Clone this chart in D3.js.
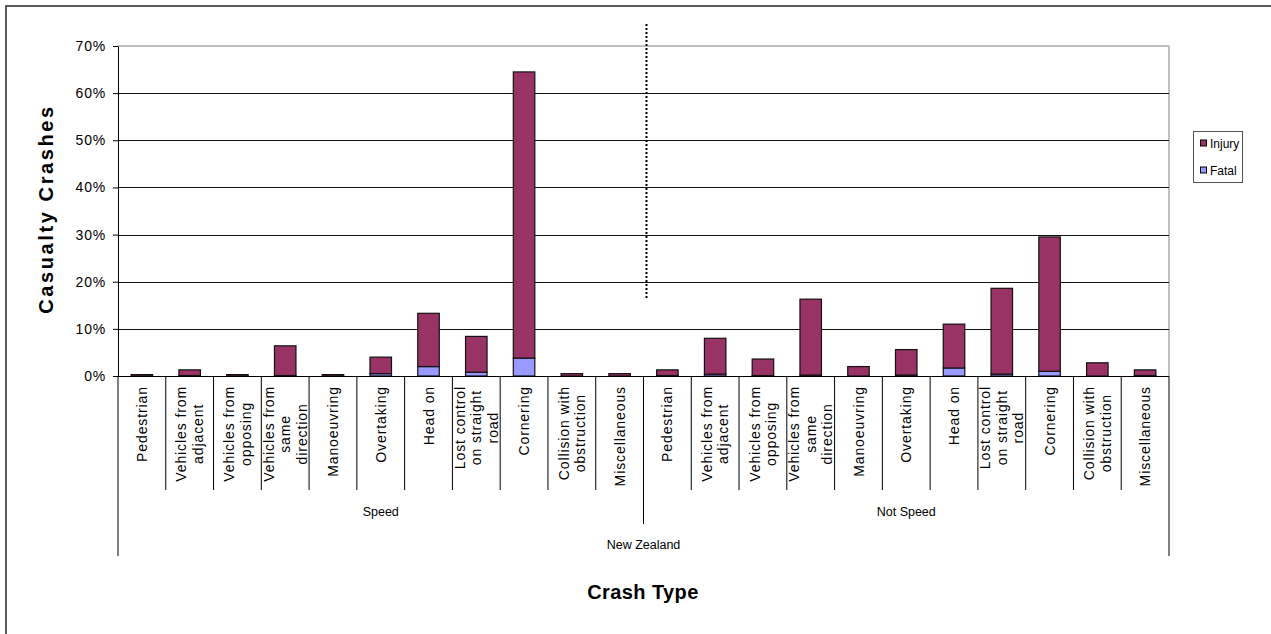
<!DOCTYPE html>
<html>
<head>
<meta charset="utf-8">
<script src="https://cdn.jsdelivr.net/npm/d3@7"></script>
<style>
  html, body { margin: 0; padding: 0; background: #fff; }
  svg { display: block; }
  text { font-family: "Liberation Sans", Arial, sans-serif; fill: #000; }
</style>
</head>
<body>
<svg id="chart" width="1271" height="634"></svg>
<script>
// ---- Data ----
const crashTypes = [
  "Pedestrian", "Vehicles from\nadjacent", "Vehicles from\nopposing",
  "Vehicles from\nsame\ndirection", "Manoeuvring", "Overtaking", "Head on",
  "Lost control\non straight\nroad", "Cornering", "Collision with\nobstruction",
  "Miscellaneous"
];
const groups = ["Speed", "Not Speed"];
const region = "New Zealand";
const seriesNames = ["Injury", "Fatal"];
// percentages of casualty crashes
const fatalSpeed     = [0.0, 0.1, 0.0, 0.1, 0.0, 0.5, 2.0, 0.8, 3.8, 0.0, 0.0];
const injurySpeed    = [0.3, 1.2, 0.3, 6.3, 0.3, 3.5, 11.3, 7.6, 60.7, 0.5, 0.5];
const fatalNotSpeed  = [0.1, 0.4, 0.1, 0.2, 0.0, 0.2, 1.7, 0.4, 1.0, 0.0, 0.1];
const injuryNotSpeed = [1.2, 7.6, 3.5, 16.1, 2.0, 5.4, 9.3, 18.2, 28.5, 2.8, 1.2];
const yTicks = [0, 10, 20, 30, 40, 50, 60, 70];

// ---- Build table ----
const rows = [];
groups.forEach((g, gi) => {
  crashTypes.forEach((c, ci) => {
    rows.push({
      key: g + "|" + c, group: g, cat: c,
      fatal: (gi === 0 ? fatalSpeed : fatalNotSpeed)[ci] / 100,
      injury: (gi === 0 ? injurySpeed : injuryNotSpeed)[ci] / 100
    });
  });
});

const colors = { injury: "#993366", fatal: "#9999FF" };
const font = '"Liberation Sans", Arial, sans-serif';

const svg = d3.select("#chart");
const pLeft = 118, pRight = 1169, pTop = 46, pBottom = 376;

// outer frame (only top/left visible)
svg.append("rect").attr("x", 6).attr("y", 6).attr("width", 1300).attr("height", 700)
  .attr("fill", "none").attr("stroke", "#333").attr("stroke-width", 1.6);

const x = d3.scaleBand().domain(rows.map(d => d.key)).range([pLeft, pRight])
  .paddingInner(0.55).paddingOuter(0.275);
const y = d3.scaleLinear().domain([0, 0.7]).range([pBottom, pTop]);

// plot area border
svg.append("line").attr("x1", pLeft).attr("x2", pRight).attr("y1", pTop).attr("y2", pTop)
  .attr("stroke", "#808080").attr("stroke-width", 1.2);
svg.append("line").attr("x1", pRight).attr("x2", pRight).attr("y1", pTop).attr("y2", pBottom)
  .attr("stroke", "#c0c0c0").attr("stroke-width", 2);

// gridlines
svg.append("g").selectAll("line").data(yTicks.filter(t => t > 0 && t < 70)).join("line")
  .attr("x1", pLeft).attr("x2", pRight)
  .attr("y1", d => Math.round(y(d / 100)) + 0.5).attr("y2", d => Math.round(y(d / 100)) + 0.5)
  .attr("stroke", "#111").attr("stroke-width", 1);

// dotted divider
svg.append("line").attr("x1", 646.5).attr("x2", 646.5).attr("y1", 24).attr("y2", 300)
  .attr("stroke", "#000").attr("stroke-width", 2).attr("stroke-dasharray", "2,2");

// bars
const stack = d3.stack().keys(["fatal", "injury"]);
const series = stack(rows);
svg.append("g").selectAll("g").data(series).join("g")
  .attr("fill", d => colors[d.key])
  .selectAll("rect").data(d => d).join("rect")
  .attr("x", d => x(d.data.key))
  .attr("width", x.bandwidth())
  .attr("y", d => y(d[1]))
  .attr("height", d => Math.max(0, y(d[0]) - y(d[1])))
  .attr("stroke", d => (d[1] - d[0]) > 0 ? "#111" : "none")
  .attr("stroke-width", 1.2);

// y axis
const yAxis = d3.axisLeft(y).tickValues(yTicks.map(t => t / 100))
  .tickFormat(d3.format(".0%")).tickSize(5).tickSizeOuter(0).tickPadding(7);
const ya = svg.append("g").attr("transform", `translate(${pLeft},0)`).call(yAxis);
ya.select(".domain").attr("stroke", "#000");
ya.selectAll(".tick line").attr("stroke", "#000");
ya.selectAll("text").attr("font-family", font).attr("font-size", 14)
  .attr("letter-spacing", 0.8).attr("fill", "#000");

// x axis baseline
svg.append("line").attr("x1", pLeft).attr("x2", pRight).attr("y1", pBottom + 0.5).attr("y2", pBottom + 0.5)
  .attr("stroke", "#000");

// category separators
const step = x.step();
const seps = d3.range(rows.length + 1);
svg.append("g").selectAll("line").data(seps).join("line")
  .attr("x1", i => pLeft + i * step).attr("x2", i => pLeft + i * step)
  .attr("y1", pBottom)
  .attr("y2", i => (i === 0 || i === rows.length) ? 556 : (i % crashTypes.length === 0 ? 524 : 490))
  .attr("stroke", "#000").attr("stroke-width", 1);

// category labels
const labelTop = 386, lineH = 16.5;
rows.forEach(d => {
  const lines = d.cat.split("\n");
  const cx = x(d.key) + x.bandwidth() / 2;
  const t = svg.append("text")
    .attr("font-size", 14).attr("letter-spacing", 0.9)
    .attr("text-anchor", "middle");
  lines.forEach((ln, k) => {
    t.append("tspan").attr("x", 0).attr("y", (k - (lines.length - 1) / 2) * lineH)
      .attr("dy", "0.36em").text(ln);
  });
  let maxLen = 0;
  t.selectAll("tspan").each(function () { maxLen = Math.max(maxLen, this.getComputedTextLength()); });
  t.attr("transform", `translate(${cx},${labelTop + maxLen / 2}) rotate(-90)`);
});

// group labels
groups.forEach((g, gi) => {
  const cx = pLeft + (gi * crashTypes.length + crashTypes.length / 2) * step;
  svg.append("text").attr("x", cx).attr("y", 516).attr("text-anchor", "middle")
    .attr("font-size", 12.5).text(g);
});
svg.append("text").attr("x", (pLeft + pRight) / 2).attr("y", 549).attr("text-anchor", "middle")
  .attr("font-size", 12.5).text(region);

// axis titles
svg.append("text").attr("transform", `translate(53,${(pTop + pBottom) / 2 - 2}) rotate(-90)`)
  .attr("text-anchor", "middle").attr("font-size", 20).attr("font-weight", "bold")
  .attr("letter-spacing", 2.6).text("Casualty Crashes");
svg.append("text").attr("x", 643).attr("y", 599).attr("text-anchor", "middle")
  .attr("font-size", 20).attr("font-weight", "bold").attr("letter-spacing", 0.4)
  .text("Crash Type");

// legend
const lg = svg.append("g");
lg.append("rect").attr("x", 1193.5).attr("y", 131.5).attr("width", 49).attr("height", 51)
  .attr("fill", "#fff").attr("stroke", "#555");
const legendItems = [{ name: seriesNames[0], key: "injury" }, { name: seriesNames[1], key: "fatal" }];
legendItems.forEach((it, i) => {
  const cy = 143.5 + i * 27;
  lg.append("rect").attr("x", 1200.5).attr("y", cy - 3.5).attr("width", 6).attr("height", 6)
    .attr("fill", colors[it.key]).attr("stroke", "#000").attr("stroke-width", 1);
  lg.append("text").attr("x", 1210).attr("y", cy + 4.5).attr("font-size", 12).text(it.name);
});
</script>
</body>
</html>
